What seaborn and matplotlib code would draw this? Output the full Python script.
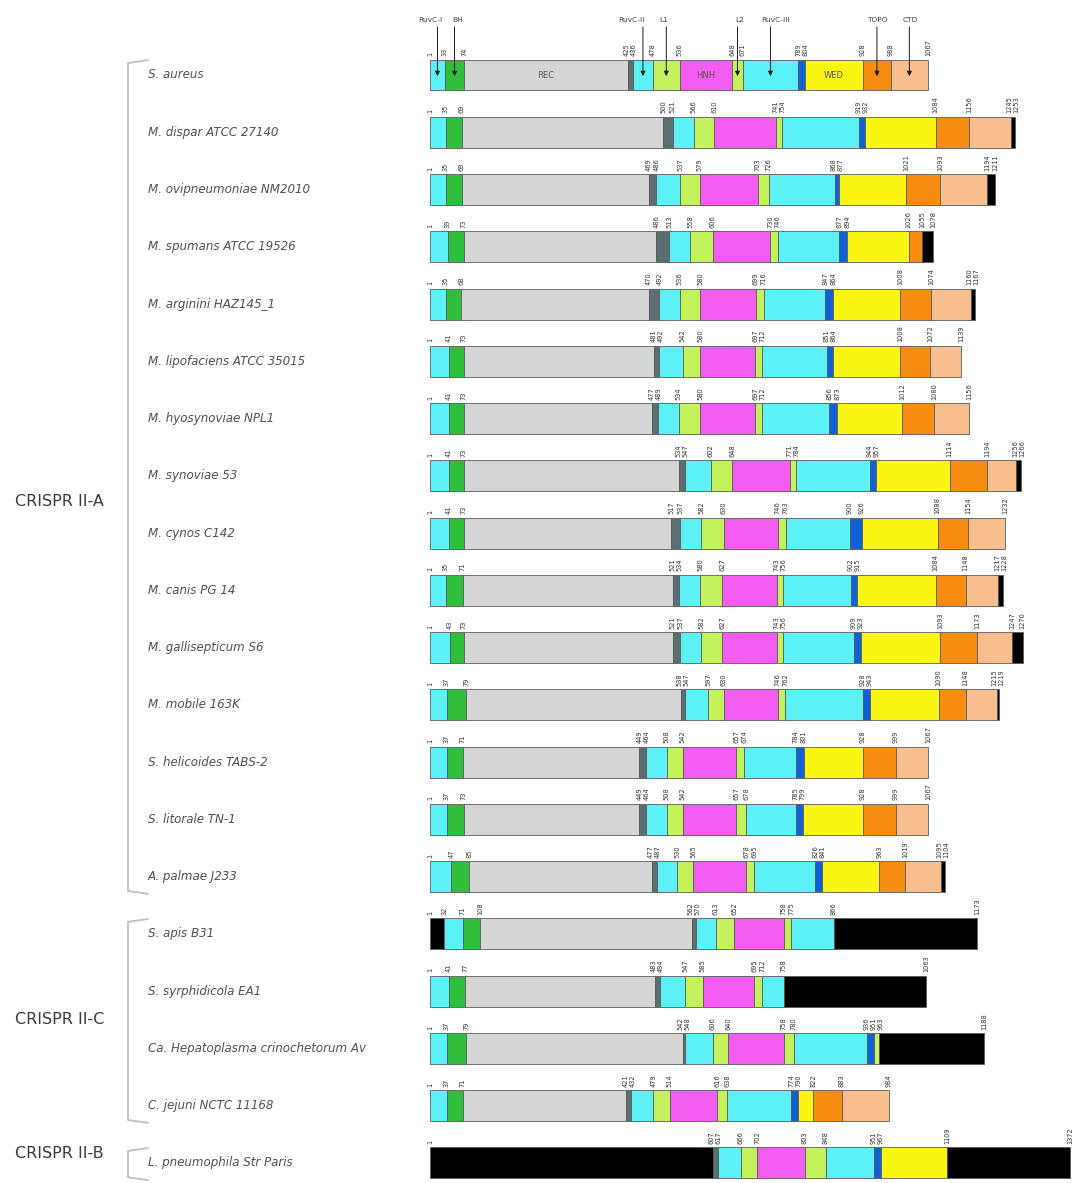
import matplotlib
matplotlib.use("Agg")
import matplotlib.pyplot as plt
import seaborn as sns

# ---------------- data ----------------
species = ["S. aureus", "M. dispar ATCC 27140", "M. ovipneumoniae NM2010", "M. spumans ATCC 19526",
           "M. arginini HAZ145_1", "M. lipofaciens ATCC 35015", "M. hyosynoviae NPL1", "M. synoviae 53",
           "M. cynos C142", "M. canis PG 14", "M. gallisepticum S6", "M. mobile 163K",
           "S. helicoides TABS-2", "S. litorale TN-1", "A. palmae J233", "S. apis B31",
           "S. syrphidicola EA1", "Ca. Hepatoplasma crinochetorum Av", "C. jejuni NCTC 11168",
           "L. pneumophila Str Paris"]

# domain boundaries (aa positions) for each protein
b_aureus = [1, 33, 74, 425, 436, 478, 536, 648, 671, 789, 804, 928, 988, 1067]
b_dispar = [1, 35, 69, 500, 521, 566, 610, 741, 754, 919, 932, 1084, 1156, 1245, 1253]
b_ovipneumoniae = [1, 35, 69, 469, 486, 537, 579, 703, 726, 868, 877, 1021, 1093, 1194, 1211]
b_spumans = [1, 39, 73, 486, 513, 558, 606, 730, 746, 877, 894, 1026, 1055, 1078]
b_arginini = [1, 35, 68, 470, 492, 536, 580, 699, 716, 847, 864, 1008, 1074, 1160, 1167]
b_lipofaciens = [1, 41, 73, 481, 492, 542, 580, 697, 712, 851, 864, 1008, 1072, 1139]
b_hyosynoviae = [1, 41, 73, 477, 489, 534, 580, 697, 712, 856, 873, 1012, 1080, 1156]
b_synoviae = [1, 41, 73, 534, 547, 602, 648, 771, 784, 944, 957, 1114, 1194, 1256, 1266]
b_cynos = [1, 41, 73, 517, 537, 582, 630, 746, 763, 900, 926, 1088, 1154, 1232]
b_canis = [1, 35, 71, 521, 534, 580, 627, 743, 756, 902, 915, 1084, 1148, 1217, 1228]
b_gallisepticum = [1, 43, 73, 521, 537, 582, 627, 743, 756, 909, 923, 1093, 1173, 1247, 1270]
b_mobile = [1, 37, 79, 538, 547, 597, 630, 746, 762, 928, 943, 1090, 1148, 1215, 1219]
b_helicoides = [1, 37, 71, 449, 464, 508, 542, 657, 674, 784, 801, 928, 999, 1067]
b_litorale = [1, 37, 73, 449, 464, 508, 542, 657, 678, 785, 799, 928, 999, 1067]
b_palmae = [1, 47, 85, 477, 487, 530, 565, 678, 695, 826, 841, 963, 1019, 1095, 1104]
b_apis = [1, 32, 71, 108, 562, 570, 613, 652, 758, 775, 866, 1173]
b_syrphidicola = [1, 41, 77, 483, 494, 547, 585, 695, 712, 758, 1063]
b_hepatoplasma = [1, 37, 79, 542, 548, 606, 640, 758, 780, 936, 951, 963, 1188]
b_jejuni = [1, 37, 71, 421, 432, 479, 514, 616, 638, 774, 790, 822, 883, 984]
b_pneumophila = [1, 607, 617, 666, 702, 803, 848, 951, 967, 1109, 1372]

# domain order codes: R=RuvC, B=BH, E=REC, D=linker, L=L1/L2, H=HNH, P=PLL, W=WED, T=TOPO, C=CTD, K=other
d_aureus = "RBEDRLHLRPWTC"
d_dispar = "RBEDRLHLRPWTCK"
d_ovipneumoniae = "RBEDRLHLRPWTCK"
d_spumans = "RBEDRLHLRPWTK"
d_arginini = "RBEDRLHLRPWTCK"
d_lipofaciens = "RBEDRLHLRPWTC"
d_hyosynoviae = "RBEDRLHLRPWTC"
d_synoviae = "RBEDRLHLRPWTCK"
d_cynos = "RBEDRLHLRPWTC"
d_canis = "RBEDRLHLRPWTCK"
d_gallisepticum = "RBEDRLHLRPWTCK"
d_mobile = "RBEDRLHLRPWTCK"
d_helicoides = "RBEDRLHLRPWTC"
d_litorale = "RBEDRLHLRPWTC"
d_palmae = "RBEDRLHLRPWTCK"
d_apis = "KRBEDRLHLRK"
d_syrphidicola = "RBEDRLHLRK"
d_hepatoplasma = "RBEDRLHLRPLK"
d_jejuni = "RBEDRLHLRPWTC"
d_pneumophila = "KDRLHLRPWK"

groups = ["CRISPR II-A", "CRISPR II-C", "CRISPR II-B"]
group_first = [0, 15, 19]
group_last = [14, 18, 19]

header_labels = ["RuvC-I", "BH", "RuvC-II", "L1", "L2", "RuvC-III", "TOPO", "CTD"]
header_segments = [0, 1, 4, 5, 7, 8, 11, 12]
inner_labels = ["REC", "HNH", "WED"]
inner_segments = [2, 6, 10]

# ---------------- style / layout ----------------
domain_colors = {
    "R": "#5cf1f6", "B": "#2fbf3d", "E": "#d5d5d5", "D": "#5b6f72", "L": "#c4f25c",
    "H": "#f35cf0", "P": "#1060d6", "W": "#fbf514", "T": "#f78d10", "C": "#f8bf8e", "K": "#000000",
}
header_dx_px = [-7, 3, -11, -3, 2, 5, 0, 1]       # label nudges relative to arrows
group_label_dy = [0.45, 0.0, -0.17]                # vertical nudges of group labels (rows)

sns.set_theme(style="white")
plt.rcParams["font.family"] = ["DejaVu Sans"]

bounds = [b_aureus, b_dispar, b_ovipneumoniae, b_spumans, b_arginini, b_lipofaciens, b_hyosynoviae,
          b_synoviae, b_cynos, b_canis, b_gallisepticum, b_mobile, b_helicoides, b_litorale, b_palmae,
          b_apis, b_syrphidicola, b_hepatoplasma, b_jejuni, b_pneumophila]
doms = [d_aureus, d_dispar, d_ovipneumoniae, d_spumans, d_arginini, d_lipofaciens, d_hyosynoviae,
        d_synoviae, d_cynos, d_canis, d_gallisepticum, d_mobile, d_helicoides, d_litorale, d_palmae,
        d_apis, d_syrphidicola, d_hepatoplasma, d_jejuni, d_pneumophila]

W, H = 1078, 1183
fig = plt.figure(figsize=(W / 100, H / 100), dpi=100)
ax = fig.add_axes([0, 0, 1, 1])

px_per_aa = 0.467
x0_px = 430
row0_px = 75
row_step = 57.26
xlim_left = 1 - x0_px / px_per_aa
ax.set_xlim(xlim_left, xlim_left + W / px_per_aa)
ax.set_ylim((H - row0_px) / row_step, -row0_px / row_step)
ax.axis("off")

min_gap = 7.0 / px_per_aa   # minimal spacing of the rotated number labels


def spread(vals):
    pos = [float(v) for v in vals]
    for _ in range(4):
        for k in range(len(pos) - 1):
            gap = pos[k + 1] - pos[k]
            if gap < min_gap:
                shift = (min_gap - gap) / 2
                pos[k] -= shift
                pos[k + 1] += shift
    return pos


bar_h = 0.54
for i, (b, d) in enumerate(zip(bounds, doms)):
    lefts = b[:-1]
    widths = [b[k + 1] - b[k] for k in range(len(b) - 1)]
    cols = [domain_colors[c] for c in d]
    ax.barh([i] * len(lefts), widths, left=lefts, height=bar_h, color=cols,
            edgecolor="#5a5a5a", linewidth=0.6, align="center")
    for v, xp in zip(b, spread(b)):
        ax.text(xp, i - bar_h / 2 - 0.06, str(v), rotation=90, ha="center", va="bottom",
                fontsize=4.8, color="#333333")
    ax.text(148 / W, i, species[i], transform=ax.get_yaxis_transform(), ha="left", va="center",
            fontsize=8.6, style="italic", color="#505050")

# S. aureus header
b = bounds[0]
for lab, s, dx in zip(header_labels, header_segments, header_dx_px):
    mid = (b[s] + b[s + 1]) / 2
    ax.annotate("", xy=(mid, 0.02), xytext=(mid, -0.84),
                arrowprops=dict(arrowstyle="-|>", color="#1a1a1a", lw=0.7, mutation_scale=7,
                                shrinkA=0, shrinkB=0))
    ax.text(mid + dx / px_per_aa, -0.90, lab, ha="center", va="bottom", fontsize=5.4, color="#444444")
for lab, s in zip(inner_labels, inner_segments):
    mid = (b[s] + b[s + 1]) / 2
    ax.text(mid, 0, lab, ha="center", va="center", fontsize=6, color="#555555")

# group brackets
tr = ax.get_yaxis_transform()
bx = 128 / W
hook = 20 / W
for g, f, l, dy in zip(groups, group_first, group_last, group_label_dy):
    top = f - 0.26
    bot = l + 0.30
    ax.plot([bx + hook, bx, bx, bx + hook], [top, top + 0.05, bot - 0.05, bot], transform=tr,
            color="#b9c0c8", lw=1.3, solid_capstyle="round")
    ax.text(15 / W, (f + l) / 2 + dy, g, transform=tr, ha="left", va="center",
            fontsize=11.5, color="#3a3a3a")

fig.savefig("out.png", dpi=100)
